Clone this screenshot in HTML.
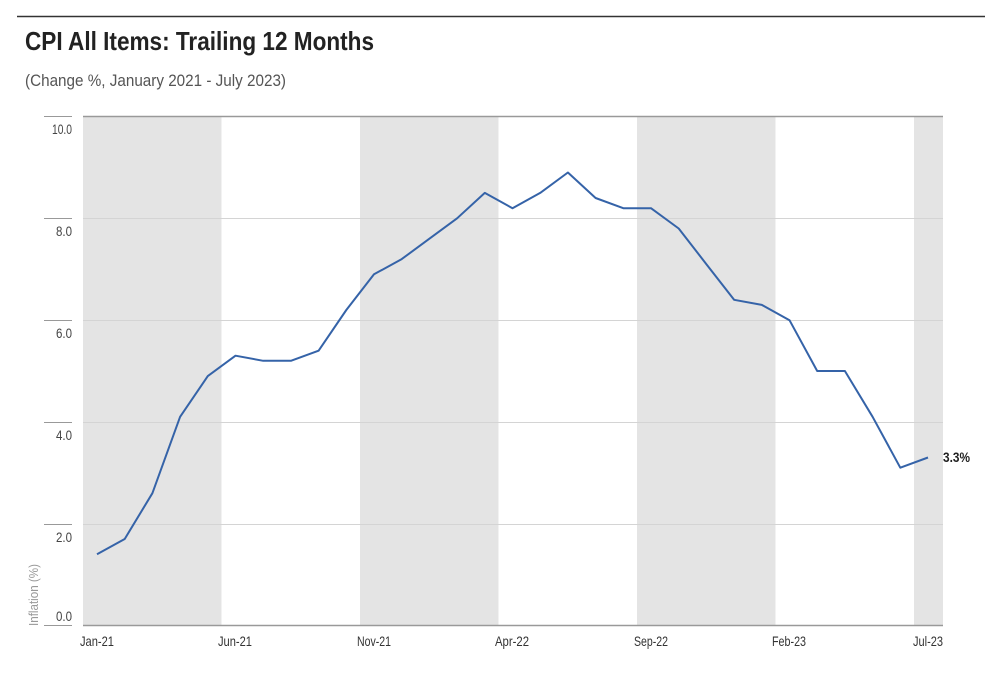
<!DOCTYPE html>
<html><head><meta charset="utf-8"><style>
body{margin:0;background:#fff;width:995px;height:674px;overflow:hidden;font-family:"Liberation Sans",sans-serif;}
</style></head><body>
<svg width="995" height="674" xmlns="http://www.w3.org/2000/svg" style="position:absolute;left:0;top:0">
<line x1="17" y1="16.5" x2="985" y2="16.5" stroke="#333" stroke-width="1.5"/>
<text x="25" y="50" font-size="26" font-weight="bold" fill="#222" textLength="349" lengthAdjust="spacingAndGlyphs">CPI All Items: Trailing 12 Months</text>
<text x="25" y="86" font-size="17" fill="#555" textLength="261" lengthAdjust="spacingAndGlyphs">(Change %, January 2021 - July 2023)</text>
<g fill="#e4e4e4">
<rect x="83" y="117" width="138.5" height="509"/>
<rect x="360" y="117" width="138.5" height="509"/>
<rect x="637" y="117" width="138.5" height="509"/>
<rect x="914" y="117" width="29" height="509"/>
</g>
<g stroke="#d4d4d4" stroke-width="1">
<line x1="83" y1="218.5" x2="943" y2="218.5"/>
<line x1="83" y1="320.5" x2="943" y2="320.5"/>
<line x1="83" y1="422.5" x2="943" y2="422.5"/>
<line x1="83" y1="524.5" x2="943" y2="524.5"/>
</g>
<line x1="83" y1="116.5" x2="943" y2="116.5" stroke="#999" stroke-width="1.5"/>
<line x1="83" y1="625.5" x2="943" y2="625.5" stroke="#999" stroke-width="1.5"/>
<g stroke="#999" stroke-width="1">
<line x1="44" y1="116.5" x2="72" y2="116.5"/>
<line x1="44" y1="218.5" x2="72" y2="218.5"/>
<line x1="44" y1="320.5" x2="72" y2="320.5"/>
<line x1="44" y1="422.5" x2="72" y2="422.5"/>
<line x1="44" y1="524.5" x2="72" y2="524.5"/>
<line x1="44" y1="625.5" x2="72" y2="625.5"/>
</g>
<g font-size="14" fill="#444">
<text x="52" y="134" textLength="20" lengthAdjust="spacingAndGlyphs">10.0</text>
<text x="56" y="236" textLength="16" lengthAdjust="spacingAndGlyphs">8.0</text>
<text x="56" y="338" textLength="16" lengthAdjust="spacingAndGlyphs">6.0</text>
<text x="56" y="440" textLength="16" lengthAdjust="spacingAndGlyphs">4.0</text>
<text x="56" y="542" textLength="16" lengthAdjust="spacingAndGlyphs">2.0</text>
<text x="56" y="621" textLength="16" lengthAdjust="spacingAndGlyphs">0.0</text>
</g>
<text transform="translate(38,626) rotate(-90)" font-size="13" fill="#999" textLength="62" lengthAdjust="spacingAndGlyphs">Inflation (%)</text>
<g font-size="14" fill="#333">
<text x="80" y="646" textLength="34" lengthAdjust="spacingAndGlyphs">Jan-21</text>
<text x="218" y="646" textLength="34" lengthAdjust="spacingAndGlyphs">Jun-21</text>
<text x="357" y="646" textLength="34" lengthAdjust="spacingAndGlyphs">Nov-21</text>
<text x="495" y="646" textLength="34" lengthAdjust="spacingAndGlyphs">Apr-22</text>
<text x="634" y="646" textLength="34" lengthAdjust="spacingAndGlyphs">Sep-22</text>
<text x="772" y="646" textLength="34" lengthAdjust="spacingAndGlyphs">Feb-23</text>
<text x="913" y="646" textLength="30" lengthAdjust="spacingAndGlyphs">Jul-23</text>
</g>
<polyline fill="none" stroke="#3563a8" stroke-width="2" stroke-linejoin="round" points="97,554.2 124.7,539 152.4,493.2 180.1,416.8 207.8,376.1 235.5,355.7 263.2,360.8 290.9,360.8 318.6,350.7 346.3,310 374,274.3 401.7,259.1 429.4,238.7 457.1,218.3 484.8,192.9 512.5,208.2 540.2,192.9 567.9,172.5 595.6,198 623.3,208.2 651,208.2 678.7,228.5 706.4,264.2 734.1,299.8 761.8,304.9 789.5,320.2 817.2,371 844.9,371 872.6,416.8 900.3,467.7 928,457.5"/>
<text x="943" y="462" font-size="14" font-weight="bold" fill="#222" textLength="27" lengthAdjust="spacingAndGlyphs">3.3%</text>
</svg>
</body></html>
